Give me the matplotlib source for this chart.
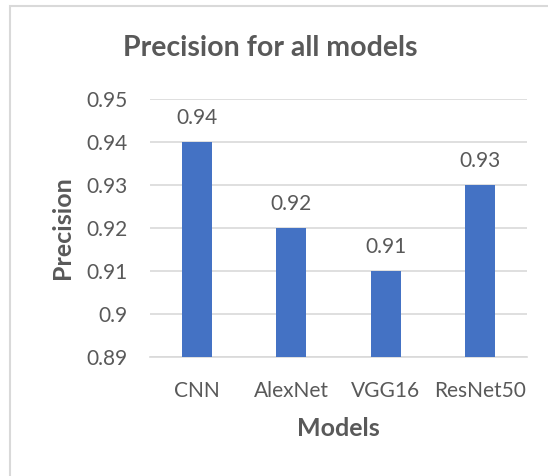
import matplotlib.pyplot as plt
from matplotlib.patches import Rectangle

models = ["CNN", "AlexNet", "VGG16", "ResNet50"]
precision = [0.94, 0.92, 0.91, 0.93]
y_ticks = [0.89, 0.90, 0.91, 0.92, 0.93, 0.94, 0.95]
y_tick_labels = ["0.89", "0.9", "0.91", "0.92", "0.93", "0.94", "0.95"]

text_color = "#595959"
grid_color = "#D9D9D9"
bar_color = "#4472C4"

plt.rcParams["font.family"] = ["Lato", "DejaVu Sans"]

fig = plt.figure(figsize=(5.48, 4.76), dpi=100)
ax = fig.add_axes([150 / 548, 1 - 357 / 476, 377 / 548, 258 / 476])

# chart frame, open to the right and bottom
fig.patches.append(Rectangle((10 / 548, -0.1), 1.2, 1 - 6 / 476 + 0.1,
                             transform=fig.transFigure, fill=False,
                             edgecolor=grid_color, linewidth=1.5))

x = range(len(models))
bars = ax.bar(x, precision, width=0.32, color=bar_color, zorder=3)

ax.set_xlim(-0.5, len(models) - 0.5)
ax.set_ylim(0.89, 0.95)
ax.set_yticks(y_ticks)
ax.set_yticklabels(y_tick_labels)
ax.set_xticks(list(x))
ax.set_xticklabels(models)

ax.yaxis.grid(True, color=grid_color, linewidth=1.2, zorder=0)
for side in ["top", "right", "left"]:
    ax.spines[side].set_visible(False)
ax.spines["bottom"].set_color(grid_color)
ax.spines["bottom"].set_linewidth(1.2)
ax.tick_params(axis="both", length=0, labelsize=15, labelcolor=text_color)
ax.tick_params(axis="y", pad=16)
ax.tick_params(axis="x", pad=17)

for bar, val in zip(bars, precision):
    ax.annotate(f"{val:.2f}", (bar.get_x() + bar.get_width() / 2, val),
                xytext=(0, 10), textcoords="offset points",
                ha="center", va="bottom", fontsize=15, color=text_color)

ax.set_xlabel("Models", fontsize=18, fontweight="bold", color=text_color)
ax.xaxis.set_label_coords(0.5, -(428 - 357) / 258)
ax.xaxis.label.set_va("center")
ax.set_ylabel("Precision", fontsize=18, fontweight="bold", color=text_color)
ax.yaxis.set_label_coords(-(150 - 62) / 377, 0.5)
ax.yaxis.label.set_va("center")
fig.text(270 / 548, 1 - 48 / 476, "Precision for all models", ha="center", va="center",
         fontsize=20.5, fontweight="bold", color=text_color)

fig.savefig("out.png", dpi=100)
